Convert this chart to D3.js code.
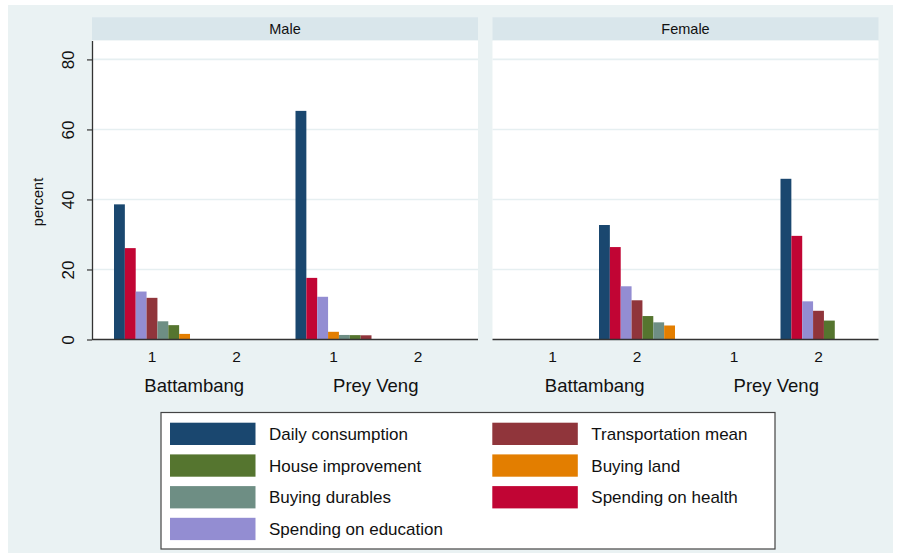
<!DOCTYPE html>
<html>
<head>
<meta charset="utf-8">
<script src="https://cdn.jsdelivr.net/npm/d3@7"></script>
<style>
  body { margin: 0; background: #fff; }
  text { font-family: "Liberation Sans", Arial, sans-serif; fill: #111; }
</style>
</head>
<body>
<div id="chart"></div>
<script>
// Data
const panels = ["Male", "Female"];
const regions = ["Battambang", "Prey Veng"];
const waves = ["1", "2"];
const seriesNames = [
    "Daily consumption", "Transportation mean",
    "House improvement", "Buying land",
    "Buying durables", "Spending on health",
    "Spending on education"
];
const seriesColors = ["#1a476f", "#90353b", "#55752f", "#e37e00", "#6e8e84", "#c10534", "#938dd2"];
const yTicks = [0, 20, 40, 60, 80];

// values in seriesNames order
const maleBattambang1 = [38.6, 11.9, 4.1, 1.6, 5.2, 26.1, 13.7];
const maleBattambang2 = [0, 0, 0, 0, 0, 0, 0];
const malePreyVeng1 = [65.3, 1.2, 1.25, 2.2, 1.3, 17.6, 12.2];
const malePreyVeng2 = [0, 0, 0, 0, 0, 0, 0];
const femaleBattambang1 = [0, 0, 0, 0, 0, 0, 0];
const femaleBattambang2 = [32.7, 11.2, 6.7, 4.0, 4.9, 26.4, 15.2];
const femalePreyVeng1 = [0, 0, 0, 0, 0, 0, 0];
const femalePreyVeng2 = [45.9, 8.2, 5.4, 0, 0, 29.6, 10.9];

const groups = [
    { panel: "Male", region: "Battambang", wave: "1", values: maleBattambang1 },
    { panel: "Male", region: "Battambang", wave: "2", values: maleBattambang2 },
    { panel: "Male", region: "Prey Veng", wave: "1", values: malePreyVeng1 },
    { panel: "Male", region: "Prey Veng", wave: "2", values: malePreyVeng2 },
    { panel: "Female", region: "Battambang", wave: "1", values: femaleBattambang1 },
    { panel: "Female", region: "Battambang", wave: "2", values: femaleBattambang2 },
    { panel: "Female", region: "Prey Veng", wave: "1", values: femalePreyVeng1 },
    { panel: "Female", region: "Prey Veng", wave: "2", values: femalePreyVeng2 }
];

const W = 898, H = 553;
const plotTop = 40.5, plotBottom = 339.5;

const svg = d3.select("#chart").append("svg")
    .attr("width", W)
    .attr("height", H);

// graph region background
svg.append("rect")
    .attr("x", 8).attr("y", 5)
    .attr("width", 885).attr("height", 548)
    .attr("fill", "#eaf2f3");

// scales
const y = d3.scaleLinear().domain([0, 85.4]).range([plotBottom, plotTop]);
const panelX = d3.scaleBand().domain(panels).range([92, 878.5]).paddingInner(14.5 / 400.5);
const regionX = d3.scaleBand().domain(regions).range([0, panelX.bandwidth()])
    .paddingInner(21 / 181.5).paddingOuter(22 / 181.5);
const waveX = d3.scaleBand().domain(waves).range([0, regionX.bandwidth()])
    .paddingInner(8.5 / 84.5);
const slotX = d3.scaleBand().domain(d3.range(seriesNames.length)).range([0, waveX.bandwidth()]);

panels.forEach(p => {
    const g = svg.append("g").attr("transform", `translate(${panelX(p)},0)`);
    const pw = panelX.bandwidth();

    // header strip
    g.append("rect")
        .attr("x", 0).attr("y", 17.3)
        .attr("width", pw).attr("height", plotTop - 17.3)
        .attr("fill", "#d9e6eb");
    g.append("text")
        .attr("x", pw / 2).attr("y", 33.5)
        .attr("text-anchor", "middle")
        .style("font-size", "14.5px")
        .text(p);

    // plot region
    g.append("rect")
        .attr("x", 0).attr("y", plotTop)
        .attr("width", pw).attr("height", plotBottom - plotTop)
        .attr("fill", "#fff");

    // grid
    g.selectAll("line.grid")
        .data(yTicks.filter(t => t > 0))
        .enter().append("line")
        .attr("class", "grid")
        .attr("x1", 0).attr("x2", pw)
        .attr("y1", d => y(d)).attr("y2", d => y(d))
        .attr("stroke", "#e6eff1")
        .attr("stroke-width", 1.6);

    // bars
    groups.filter(d => d.panel === p).forEach(grp => {
        const x0 = regionX(grp.region) + waveX(grp.wave);
        const sorted = grp.values
            .map((v, i) => ({ v, i }))
            .sort((a, b) => b.v - a.v);
        g.selectAll(null)
            .data(sorted.map((d, rank) => ({ ...d, rank })).filter(d => d.v > 0))
            .enter().append("rect")
            .attr("x", d => x0 + slotX(d.rank))
            .attr("y", d => y(d.v))
            .attr("width", slotX.bandwidth())
            .attr("height", d => y(0) - y(d.v))
            .attr("fill", d => seriesColors[d.i]);
    });

    // x baseline
    g.append("line")
        .attr("x1", 0).attr("x2", pw)
        .attr("y1", plotBottom).attr("y2", plotBottom)
        .attr("stroke", "#333")
        .attr("stroke-width", 1.3);

    // category labels
    regions.forEach(r => {
        waves.forEach(w => {
            g.append("text")
                .attr("x", regionX(r) + waveX(w) + waveX.bandwidth() / 2)
                .attr("y", 361.5)
                .attr("text-anchor", "middle")
                .style("font-size", "15.5px")
                .text(w);
        });
        g.append("text")
            .attr("x", regionX(r) + regionX.bandwidth() / 2)
            .attr("y", 392)
            .attr("text-anchor", "middle")
            .style("font-size", "18.5px")
            .text(r);
    });
});

// y axis on the first panel
const yAxis = svg.append("g")
    .attr("transform", `translate(${panelX("Male")},0)`)
    .call(d3.axisLeft(y).tickValues(yTicks).tickSize(5).tickSizeOuter(0));
yAxis.select(".domain").attr("stroke", "#333").attr("stroke-width", 1.3);
yAxis.selectAll(".tick line").attr("stroke", "#333").attr("stroke-width", 1.2);
yAxis.selectAll(".tick text")
    .attr("transform", "rotate(-90)")
    .attr("x", 0)
    .attr("y", -18)
    .attr("dy", 0)
    .attr("text-anchor", "middle")
    .style("font-family", "'Liberation Sans', Arial, sans-serif")
    .style("font-size", "17px")
    .attr("fill", "#111");

svg.append("text")
    .attr("transform", "translate(43,202) rotate(-90)")
    .attr("text-anchor", "middle")
    .style("font-size", "14.5px")
    .text("percent");

// legend
const legend = svg.append("g");
legend.append("rect")
    .attr("x", 161).attr("y", 412.5)
    .attr("width", 614).attr("height", 136.5)
    .attr("fill", "#fff")
    .attr("stroke", "#444")
    .attr("stroke-width", 1.2);

const colX = [170, 492.3];
const rowY = [422.7, 454.4, 486.1, 517.8];
seriesNames.forEach((name, i) => {
    const col = i % 2, row = Math.floor(i / 2);
    legend.append("rect")
        .attr("x", colX[col]).attr("y", rowY[row])
        .attr("width", 85.5).attr("height", 22.3)
        .attr("fill", seriesColors[i]);
    legend.append("text")
        .attr("x", colX[col] + 99)
        .attr("y", rowY[row] + 11.2)
        .attr("dy", "0.35em")
        .style("font-size", "17px")
        .text(name);
});
</script>
</body>
</html>
